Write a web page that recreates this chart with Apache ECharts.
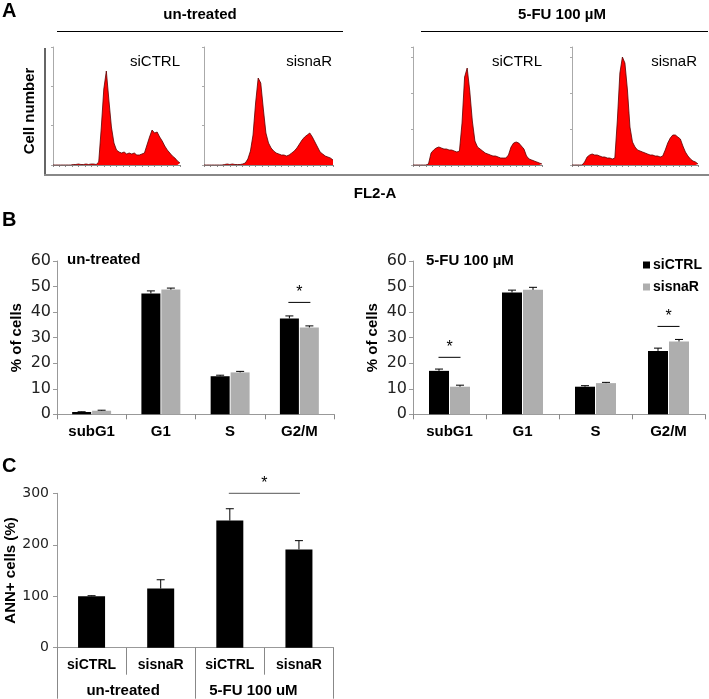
<!DOCTYPE html>
<html><head><meta charset="utf-8">
<script src="https://cdn.jsdelivr.net/npm/echarts@6/dist/echarts.min.js"></script>
<style>html,body{margin:0;padding:0;background:#fff}#c{width:709px;height:699px}</style>
</head><body><div id="c"></div>
<script>
// ---- Panel A: DNA content histograms (cell counts per FL2-A bin) ----
const histUntreatedCtrl = [0,0,0,0,0,0,0,0,0.5,0.5,1,0.5,0.5,1,0.5,1,1,0.5,
  3,37,76,94,65,38,22,15,
  13,12,13,11,12,11,12,10,10,11,
  12,20,28,35,32,33,28,24,19,15,12,9,7,4,2];
const histUntreatedSisnaR = [0,0,0,0,0,0,0,0,0.5,1,0.5,1,0.5,0.5,
  0.5,1,2,6,14,30,62,87,82,56,32,22,17,14,12,11,10,10,9,10,12,14,17,21,25,28,30,32,28,23,18,13,11,9,8,7,5];
const histTreatedCtrl = [0,0,0,0,0,0,1,12,15,17,18,17,16,16,15,15,14,13,14,
  42,88,97,74,44,24,18,16,14,12,11,10,9,9,8,7,7,7,
  10,18,22,23,22,19,16,9,6,5,4,3,2,1];
const histTreatedSisnaR = [0,0,0,0,0,3,8,10,11,10,10,9,8,8,7,7,6,7,
  45,92,108,102,75,38,23,18,15,14,13,12,11,10,10,9,9,8,9,
  15,22,27,30,30,28,26,19,13,9,6,4,3,1];

// ---- Panel B: cell cycle phases (% of cells) ----
const phases = ['subG1', 'G1', 'S', 'G2/M'];
const untreatedCtrl = [0.9, 47.3, 14.9, 37.5];
const untreatedCtrlErr = [0.1, 1.0, 0.4, 1.0];
const untreatedSisnaR = [1.4, 48.8, 16.4, 34.0];
const untreatedSisnaRErr = [0.2, 0.6, 0.4, 0.6];
const treatedCtrl = [17.0, 47.7, 10.8, 24.8];
const treatedCtrlErr = [0.7, 0.9, 0.4, 1.1];
const treatedSisnaR = [10.8, 48.7, 12.2, 28.5];
const treatedSisnaRErr = [0.6, 1.0, 0.3, 0.8];
const sigUntreated = [[3, 3, 43.8]];
const sigTreated = [[0, 0, 22.3], [3, 3, 34.4]];

// ---- Panel C: annexin V positive cells (%) ----
const annCategories = ['siCTRL', 'sisnaR', 'siCTRL', 'sisnaR'];
const annGroups = ['un-treated', '5-FU 100 uM'];
const annValues = [100, 115, 247, 191];
const annErr = [1, 17, 23, 17];
const sigAnn = [[2, 3, 300]];

const FONT = 'Arial, "Liberation Sans", Helvetica, sans-serif';
const NUMFONT = '"DejaVu Sans", sans-serif';
const GRAY = '#aeaeae';
const AX = '#999';

function histX(i){ return {type:'value', gridIndex:i, min:0, max:50, interval:2.5,
  axisLine:{show:true, onZero:false, lineStyle:{color:'#888', width:1}},
  axisTick:{show:true, length:2, lineStyle:{color:'#888'}},
  axisLabel:{show:false}, splitLine:{show:false}}; }
function histY(i, iv){ return {type:'value', gridIndex:i, min:0, max:118, interval:iv,
  axisLine:{show:true, lineStyle:{color:'#aaa', width:1}},
  axisTick:{show:true, length:2, lineStyle:{color:'#aaa'}},
  axisLabel:{show:false}, splitLine:{show:false}}; }
function histSeries(arr, i){ return {type:'line', xAxisIndex:i, yAxisIndex:i,
  data: arr.map((v,k)=>[k,v]), symbol:'none', showSymbol:false, silent:true,
  lineStyle:{color:'#5c0000', width:0.8}, areaStyle:{color:'#ff0000', opacity:1}}; }

function errSeries(vals, errs, ax, off){
  return {type:'custom', xAxisIndex:ax, yAxisIndex:ax, silent:true, z:5,
    data: vals.map((v,k)=>[k, v, errs[k]]),
    renderItem:(p, api)=>{
      const a = api.coord([api.value(0), api.value(1)]);
      const b = api.coord([api.value(0), api.value(1)+api.value(2)]);
      const x = a[0]+off;
      return {type:'group', children:[
        {type:'line', shape:{x1:x,y1:a[1],x2:x,y2:b[1]}, style:{stroke:'#000', lineWidth:1}},
        {type:'line', shape:{x1:x-4,y1:b[1],x2:x+4,y2:b[1]}, style:{stroke:'#000', lineWidth:1}}]};
    }};
}
function sigSeries(data, ax, ext, color){
  return {type:'custom', xAxisIndex:ax, yAxisIndex:ax, silent:true, z:6, data:data,
    renderItem:(p, api)=>{
      const a = api.coord([api.value(0), api.value(2)]);
      const b = api.coord([api.value(1), api.value(2)]);
      const x1 = a[0]-ext, x2 = b[0]+ext, y = a[1];
      return {type:'group', children:[
        {type:'line', shape:{x1:x1,y1:y,x2:x2,y2:y}, style:{stroke:color, lineWidth:1}},
        {type:'text', x:(x1+x2)/2, y:y-10, style:{text:'*', fontSize:16, fontFamily:FONT, fill:'#000', align:'center', verticalAlign:'middle'}}]};
    }};
}
function barY(i, max, iv, name, gap, fs){
  return {type:'value', gridIndex:i, min:0, max:max, interval:iv,
    axisLine:{show:true, lineStyle:{color:AX}}, axisTick:{show:true, length:4, lineStyle:{color:AX}},
    axisLabel:{fontSize:fs, color:'#222', margin:6, fontFamily:NUMFONT}, splitLine:{show:false},
    name:name, nameLocation:'middle', nameRotate:90, nameGap:gap,
    nameTextStyle:{fontWeight:'bold', fontSize:15, color:'#000', fontFamily:FONT}};
}
function catX(i, data){
  return {type:'category', gridIndex:i, data:data,
    axisLine:{lineStyle:{color:AX}}, axisTick:{show:true, interval:0, length:5, lineStyle:{color:'#888'}},
    axisLabel:{interval:0, fontWeight:'bold', fontSize:15, color:'#000', margin:10, fontFamily:FONT}};
}
function txt(t, x, y, o){ o = o||{};
  return {type:'text', x:x, y:y, rotation:o.rot||0, silent:true,
    style:{text:t, fontSize:o.fs||15, fontWeight:o.fw||'bold', fontFamily:FONT, fill:'#000',
      align:o.al||'center', verticalAlign:'middle'}}; }
function ln(x1,y1,x2,y2,c,w){ return {type:'line', silent:true, shape:{x1,y1,x2,y2}, style:{stroke:c, lineWidth:w}}; }

const chart = echarts.init(document.getElementById('c'));
chart.setOption({
  animation:false,
  textStyle:{fontFamily:FONT},
  grid:[
    {left:53, top:47, width:127, height:118},
    {left:204, top:47, width:129, height:118},
    {left:413, top:47, width:129, height:118},
    {left:572, top:47, width:126, height:118},
    {left:57, top:261, width:277, height:153.3},
    {left:413, top:261, width:292, height:153.3},
    {left:57, top:493.3, width:276.5, height:154.4}
  ],
  xAxis:[histX(0), histX(1), histX(2), histX(3),
    catX(4, phases), catX(5, phases),
    {type:'category', gridIndex:6, data:annCategories, position:'bottom',
      axisLine:{lineStyle:{color:AX}}, axisTick:{show:true, interval:0, length:27, lineStyle:{color:'#888'}},
      axisLabel:{interval:0, fontWeight:'bold', fontSize:14, color:'#000', margin:10, fontFamily:FONT}},
    {type:'category', gridIndex:6, data:annGroups, position:'bottom',
      axisLine:{show:false}, axisTick:{show:true, interval:0, length:51, lineStyle:{color:'#888'}},
      axisLabel:{interval:0, fontWeight:'bold', fontSize:15, color:'#000', margin:36, fontFamily:FONT,
        formatter:(v,i)=> i===1 ? '{b|'+v+'}' : '{a|'+v+'}',
        rich:{a:{fontWeight:'bold', fontSize:15, color:'#000', padding:[0,6,0,0]}, b:{fontWeight:'bold', fontSize:15, color:'#000', padding:[0,22,0,0]}}}}
  ],
  yAxis:[histY(0,118/3), histY(1,118/3), histY(2,36), histY(3,36),
    barY(4, 60, 10, '% of cells', 33, 16), barY(5, 60, 10, '% of cells', 33, 16),
    Object.assign(barY(6, 300, 100, 'ANN+ cells (%)', 37, 14), {axisLabel:{fontSize:14, color:'#222', margin:8, fontFamily:NUMFONT}})
  ],
  legend:{data:['siCTRL','sisnaR'], orient:'vertical', left:638, top:253, itemWidth:7, itemHeight:7, itemGap:8,
    icon:'rect', selectedMode:false, textStyle:{fontWeight:'bold', fontSize:14, color:'#000', fontFamily:FONT, padding:[0,0,0,-2]}},
  series:[
    histSeries(histUntreatedCtrl,0), histSeries(histUntreatedSisnaR,1),
    histSeries(histTreatedCtrl,2), histSeries(histTreatedSisnaR,3),
    {name:'siCTRL', type:'bar', xAxisIndex:4, yAxisIndex:4, data:untreatedCtrl, barWidth:19, barGap:'5%', itemStyle:{color:'#000'}},
    {name:'sisnaR', type:'bar', xAxisIndex:4, yAxisIndex:4, data:untreatedSisnaR, barWidth:19, barGap:'5%', itemStyle:{color:GRAY}},
    errSeries(untreatedCtrl, untreatedCtrlErr, 4, -10),
    errSeries(untreatedSisnaR, untreatedSisnaRErr, 4, 10),
    sigSeries(sigUntreated, 4, 11, '#000'),
    {name:'siCTRL', type:'bar', xAxisIndex:5, yAxisIndex:5, data:treatedCtrl, barWidth:20, barGap:'5%', itemStyle:{color:'#000'}},
    {name:'sisnaR', type:'bar', xAxisIndex:5, yAxisIndex:5, data:treatedSisnaR, barWidth:20, barGap:'5%', itemStyle:{color:GRAY}},
    errSeries(treatedCtrl, treatedCtrlErr, 5, -10.5),
    errSeries(treatedSisnaR, treatedSisnaRErr, 5, 10.5),
    sigSeries(sigTreated, 5, 11, '#000'),
    {name:'ANN+', type:'bar', xAxisIndex:6, yAxisIndex:6, data:annValues, barWidth:27, itemStyle:{color:'#000'}},
    errSeries(annValues, annErr, 6, 0),
    sigSeries(sigAnn, 6, 1, '#555')
  ],
  graphic:[
    txt('A', 2, 11, {fs:20, al:'left'}),
    txt('un-treated', 200, 15),
    ln(57, 31.5, 343, 31.5, '#000', 1),
    txt('5-FU 100 µM', 562, 15),
    ln(421, 31.5, 708, 31.5, '#000', 1),
    ln(45, 48, 45, 175, '#666', 2),
    ln(44, 175, 709, 175, '#888', 2),
    txt('Cell number', 30, 111, {rot:Math.PI/2}),
    txt('FL2-A', 375, 194),
    txt('siCTRL', 180, 62, {fw:'normal', al:'right'}),
    txt('sisnaR', 332, 62, {fw:'normal', al:'right'}),
    txt('siCTRL', 542, 62, {fw:'normal', al:'right'}),
    txt('sisnaR', 697, 62, {fw:'normal', al:'right'}),
    txt('B', 2, 220, {fs:20, al:'left'}),
    txt('un-treated', 67, 260, {al:'left'}),
    txt('5-FU 100 µM', 426, 261, {al:'left'}),
    txt('C', 2, 466, {fs:20, al:'left'})
  ]
});
</script></body></html>
